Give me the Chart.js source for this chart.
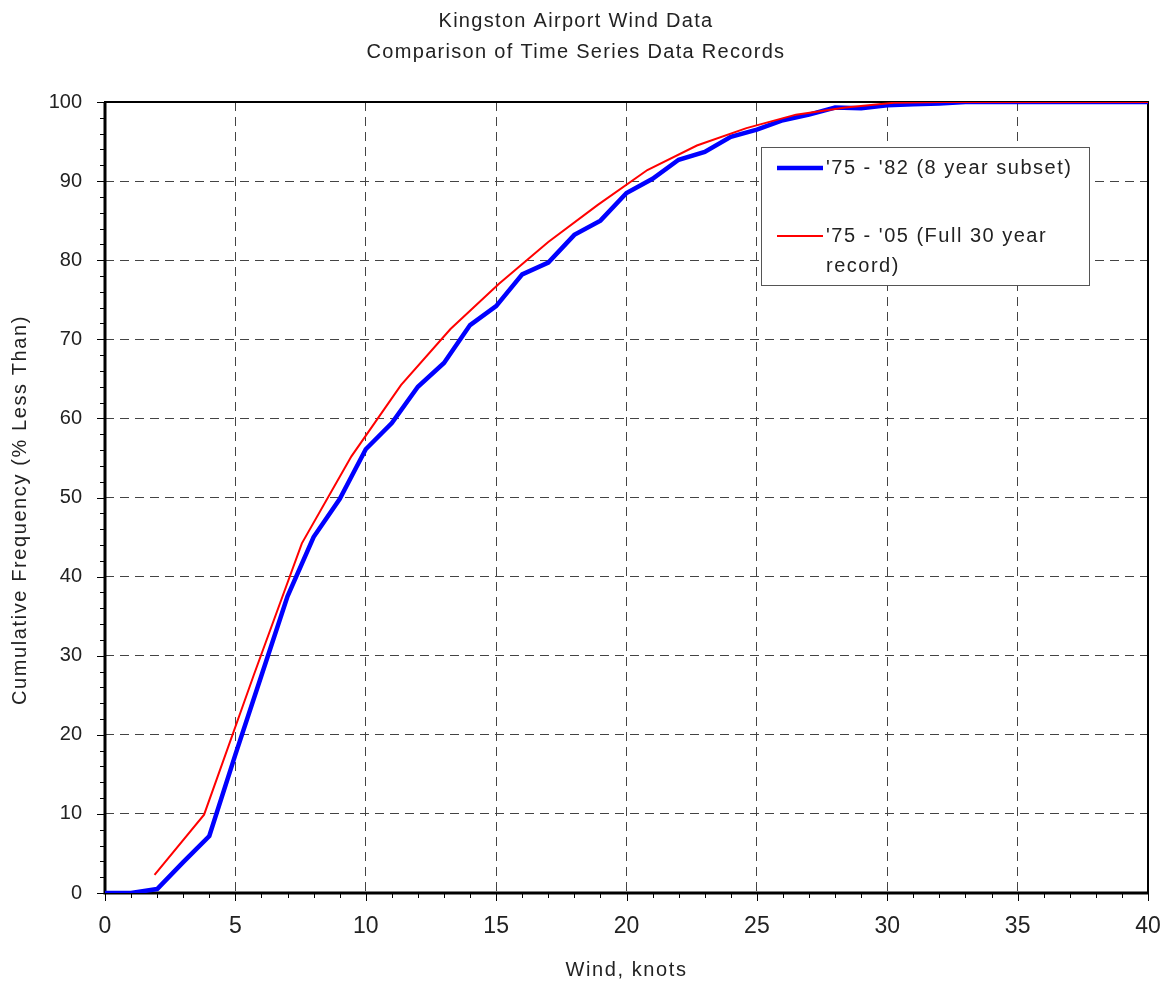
<!DOCTYPE html>
<html>
<head>
<meta charset="utf-8">
<title>Kingston Airport Wind Data</title>
<script src="https://cdn.jsdelivr.net/npm/chart.js@4.4.1/dist/chart.umd.min.js"></script>
<style>
  html, body { margin: 0; padding: 0; background: #fff; }
</style>
</head>
<body>
<canvas id="windChart" width="1166" height="985"></canvas>
<script>
// '75 - '82 subset, one point per knot
const subsetKnots = [0, 1, 2, 3, 4, 5, 6, 7, 8, 9, 10, 11, 12, 13, 14, 15, 16, 17, 18, 19, 20,
    21, 22, 23, 24, 25, 26, 27, 28, 29, 30, 31, 32, 33, 34, 35, 36, 37, 38, 39, 40];
const subsetPct = [0, 0, 0.5, 3.9, 7.2, 17.5, 27.5, 37.5, 45.0, 49.8, 56.1, 59.4, 64.0, 67.0, 71.8,
    74.2, 78.2, 79.7, 83.2, 85.0, 88.5, 90.3, 92.7, 93.7, 95.6, 96.5, 97.7, 98.4, 99.3, 99.2,
    99.6, 99.7, 99.8, 100, 100, 100, 100, 100, 100, 100, 100];

// '75 - '05 full record, its own bins
const fullKnots = [1.9, 3.8, 5.7, 7.55, 9.45, 11.35, 13.25, 15.1, 17.0, 18.9, 20.8, 22.7,
    24.6, 26.5, 28.4, 30.25, 32.15, 34.05, 35.95, 37.85, 39.7, 41.6];
const fullPct = [2.3, 9.9, 27.5, 44.2, 55.2, 64.2, 71.3, 77.0, 82.3, 87.0, 91.4, 94.5,
    96.7, 98.4, 99.3, 99.9, 100, 100, 100, 100, 100, 100];

const seriesLabels = ["'75 - '82 (8 year subset)", "'75 - '05 (Full 30 year record)"];
const titleLines = ['Kingston Airport Wind Data', 'Comparison of Time Series Data Records'];
const xTitle = 'Wind, knots';
const yTitle = 'Cumulative Frequency (% Less Than)';

const X_MIN = 0, X_MAX = 40, X_STEP = 5, X_MINOR = 1;
const Y_MIN = 0, Y_MAX = 100, Y_STEP = 10, Y_MINOR = 2;

const FONT = "'Liberation Sans', Arial, sans-serif";
const TEXT = '#222';

function toPoints(xs, ys) {
    return xs.map((x, i) => ({ x: x, y: ys[i] }));
}

function edgeColor(min, max) {
    return function (ctx) {
        if (!ctx.tick) return '#444';
        return (ctx.tick.value === min || ctx.tick.value === max) ? 'rgba(0,0,0,0)' : '#444';
    };
}

// frame + major/minor tick marks, under the lines
const frameTicks = {
    id: 'frameTicks',
    beforeDatasetsDraw(chart) {
        const { ctx, chartArea: a, scales: { x, y } } = chart;
        ctx.save();
        ctx.strokeStyle = '#000';
        ctx.lineWidth = 1;
        ctx.beginPath();
        for (let v = X_MIN; v <= X_MAX; v += X_MINOR) {
            const px = Math.round(x.getPixelForValue(v)) + 0.5;
            const len = v % X_STEP === 0 ? 8 : 5;
            ctx.moveTo(px, a.bottom);
            ctx.lineTo(px, a.bottom + len);
        }
        for (let v = Y_MIN; v <= Y_MAX; v += Y_MINOR) {
            const py = Math.round(y.getPixelForValue(v)) + 0.5;
            const len = v % Y_STEP === 0 ? 8 : 5;
            ctx.moveTo(a.left, py);
            ctx.lineTo(a.left - len, py);
        }
        ctx.stroke();

        ctx.lineWidth = 2;
        ctx.strokeRect(a.left, a.top, a.right - a.left, a.bottom - a.top);
        ctx.lineWidth = 3;
        ctx.beginPath();
        ctx.moveTo(a.left, a.top);
        ctx.lineTo(a.left, a.bottom);
        ctx.lineTo(a.right, a.bottom);
        ctx.stroke();
        ctx.restore();
    }
};

// titles, axis titles and the boxed legend
const textLegend = {
    id: 'textLegend',
    afterDraw(chart) {
        const { ctx, chartArea: a } = chart;
        const ds = chart.data.datasets;
        ctx.save();
        ctx.fillStyle = TEXT;
        ctx.letterSpacing = '1.3px';
        ctx.font = '20px ' + FONT;
        ctx.textAlign = 'center';
        ctx.textBaseline = 'alphabetic';
        ctx.fillText(titleLines[0], 576, 27);
        ctx.fillText(titleLines[1], 576, 58);

        ctx.letterSpacing = '1.6px';
        ctx.textBaseline = 'middle';
        ctx.fillText(xTitle, (a.left + a.right) / 2, 970);

        ctx.save();
        ctx.translate(20, 510);
        ctx.rotate(-Math.PI / 2);
        ctx.fillText(yTitle, 0, 0);
        ctx.restore();

        // legend box
        const bx = a.right - 387, by = a.top + 45, bw = 328, bh = 138;
        ctx.fillStyle = '#fff';
        ctx.fillRect(bx, by, bw, bh);
        ctx.strokeStyle = '#555';
        ctx.lineWidth = 1;
        ctx.strokeRect(bx + 0.5, by + 0.5, bw, bh);

        const rows = [
            { y: by + 21, lines: [ds[0].label] },
            { y: by + 89, lines: ["'75 - '05 (Full 30 year", 'record)'] }
        ];
        ctx.letterSpacing = '1.5px';
        ctx.textAlign = 'left';
        rows.forEach((r, i) => {
            ctx.strokeStyle = ds[i].borderColor;
            ctx.lineWidth = ds[i].borderWidth;
            ctx.beginPath();
            ctx.moveTo(bx + 16, r.y);
            ctx.lineTo(bx + 62, r.y);
            ctx.stroke();
            ctx.fillStyle = TEXT;
            r.lines.forEach((t, k) => ctx.fillText(t, bx + 65, r.y + k * 30));
        });
        ctx.restore();
    }
};

new Chart(document.getElementById('windChart'), {
    type: 'line',
    data: {
        datasets: [
            {
                label: seriesLabels[0],
                data: toPoints(subsetKnots, subsetPct),
                borderColor: '#0000ff',
                borderWidth: 4.5,
                order: 2
            },
            {
                label: seriesLabels[1],
                data: toPoints(fullKnots, fullPct),
                borderColor: '#ff0000',
                borderWidth: 2,
                order: 1
            }
        ]
    },
    options: {
        responsive: false,
        animation: false,
        parsing: false,
        elements: { point: { radius: 0 }, line: { tension: 0 } },
        layout: { padding: { top: 102, right: 18, bottom: 0, left: 0 } },
        plugins: { legend: { display: false }, title: { display: false }, tooltip: { enabled: false } },
        scales: {
            x: {
                type: 'linear',
                min: X_MIN,
                max: X_MAX,
                afterFit(scale) {
                    scale.height = 92;
                    scale.paddingLeft = 0;
                    scale.paddingRight = 0;
                },
                border: { display: false, dash: [9, 6] },
                grid: { drawTicks: false, color: edgeColor(X_MIN, X_MAX), lineWidth: 1 },
                ticks: { stepSize: X_STEP, padding: 20, maxRotation: 0, color: TEXT, font: { family: FONT, size: 23 } }
            },
            y: {
                type: 'linear',
                min: Y_MIN,
                max: Y_MAX,
                afterFit(scale) {
                    scale.width = 105;
                    scale.paddingTop = 0;
                    scale.paddingBottom = 0;
                },
                border: { display: false, dash: [9, 6] },
                grid: { drawTicks: false, color: edgeColor(Y_MIN, Y_MAX), lineWidth: 1 },
                ticks: { stepSize: Y_STEP, padding: 23, color: TEXT, font: { family: FONT, size: 20 } }
            }
        }
    },
    plugins: [frameTicks, textLegend]
});
</script>
</body>
</html>
